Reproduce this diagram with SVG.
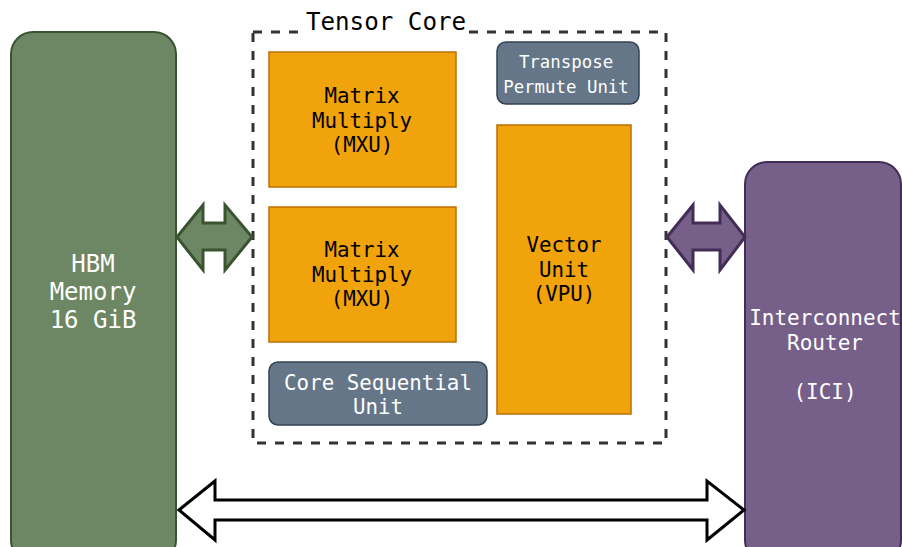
<svg xmlns="http://www.w3.org/2000/svg" width="902" height="547" viewBox="0 0 902 547">
  <style>
    text { font-family: "DejaVu Sans Mono", "Liberation Mono", monospace; text-anchor: middle; }
    .orange { fill: #f0a30a; stroke: #bd7000; stroke-width: 1.5; }
    .slate { fill: #647687; stroke: #314354; stroke-width: 1.5; }
    .green { fill: #6d8764; stroke: #3a5431; stroke-width: 2; }
    .purple { fill: #76608a; stroke: #432d57; stroke-width: 2; }
    .dark { fill: #000000; font-size: 20.8px; }
    .light { fill: #ffffff; }
  </style>

  <rect width="902" height="547" fill="#ffffff"/>

  <!-- memory block -->
  <g id="hbm">
    <rect class="green" x="11" y="32" width="165" height="530" rx="22"/>
    <text class="light" font-size="24" x="93" y="272">HBM</text>
    <text class="light" font-size="24" x="93" y="300">Memory</text>
    <text class="light" font-size="24" x="93" y="328">16 GiB</text>
  </g>

  <!-- interconnect router -->
  <g id="ici">
    <rect class="purple" x="745" y="162" width="156" height="400" rx="22"/>
    <text class="light" font-size="21" x="825" y="325">Interconnect</text>
    <text class="light" font-size="21" x="825" y="350">Router </text>
    <text class="light" font-size="21" x="825" y="399">(ICI)</text>
  </g>

  <!-- tensor core outline -->
  <g id="tensor-core">
    <rect x="253" y="32" width="413" height="411" fill="none" stroke="#333333" stroke-width="3" stroke-dasharray="9 9"/>
    <rect x="306" y="10" width="161" height="26" fill="#ffffff"/>
    <text x="386" y="30" font-size="24.2" fill="#000000">Tensor Core</text>
  </g>

  <g id="mxu-1">
    <rect class="orange" x="269" y="52" width="187" height="135"/>
    <text class="dark" x="362" y="103">Matrix</text>
    <text class="dark" x="362" y="128">Multiply</text>
    <text class="dark" x="362" y="152">(MXU)</text>
  </g>

  <g id="mxu-2">
    <rect class="orange" x="269" y="207" width="187" height="135"/>
    <text class="dark" x="362" y="257">Matrix</text>
    <text class="dark" x="362" y="282">Multiply</text>
    <text class="dark" x="362" y="306">(MXU)</text>
  </g>

  <g id="vpu">
    <rect class="orange" x="497" y="125" width="134" height="289"/>
    <text class="dark" x="564" y="252">Vector</text>
    <text class="dark" x="564" y="277">Unit</text>
    <text class="dark" x="564" y="301">(VPU)</text>
  </g>

  <g id="transpose">
    <rect class="slate" x="497" y="42" width="142" height="62" rx="9"/>
    <text class="light" font-size="17.4" x="566" y="68">Transpose</text>
    <text class="light" font-size="17.4" x="566" y="93">Permute Unit</text>
  </g>

  <g id="csu">
    <rect class="slate" x="269" y="362" width="218" height="63" rx="9"/>
    <text class="light" font-size="20.8" x="378" y="390">Core Sequential</text>
    <text class="light" font-size="20.8" x="378" y="414">Unit</text>
  </g>

  <!-- connectors: block arrows -->
  <g id="connectors">
    <polygon fill="#6d8764" stroke="#3a5431" stroke-width="3" stroke-linejoin="miter"
      points="177,237 203,205 203,223 225,223 225,205 252,237 225,270 225,250 203,250 203,270"/>
    <polygon fill="#76608a" stroke="#432d57" stroke-width="3" stroke-linejoin="miter"
      points="667,237 693,205 693,223 720,223 720,205 745,237 720,270 720,250 693,250 693,270"/>
    <polygon fill="#ffffff" stroke="#000000" stroke-width="3" stroke-linejoin="miter"
      points="179,510 215,481 215,500 707,500 707,481 744,510 707,540 707,520 215,520 215,540"/>
  </g>
</svg>
